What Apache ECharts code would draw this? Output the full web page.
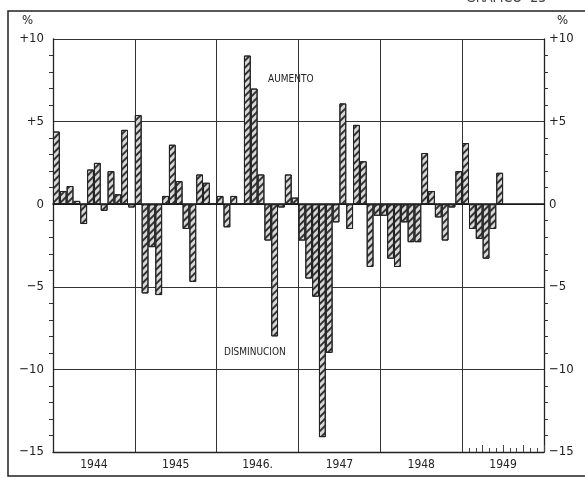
<!DOCTYPE html>
<html>
<head>
<meta charset="utf-8">
<script src="https://cdn.jsdelivr.net/npm/echarts@6/dist/echarts.min.js"></script>
<style>
html,body{margin:0;padding:0;background:#fff;}
#c{width:585px;height:479px;}
</style>
</head>
<body>
<div id="c"></div>
<script>
var years = ['1944', '1945', '1946.', '1947', '1948', '1949'];
var monthsPerYear = 12;
var v1944 = [4.4, 0.8, 1.1, 0.2, -1.2, 2.1, 2.5, -0.4, 2.0, 0.6, 4.5, -0.2];
var v1945 = [5.4, -5.4, -2.6, -5.5, 0.5, 3.6, 1.4, -1.5, -4.7, 1.8, 1.3, 0];
var v1946 = [0.5, -1.4, 0.5, 0, 9.0, 7.0, 1.8, -2.2, -8.0, -0.2, 1.8, 0.4];
var v1947 = [-2.2, -4.5, -5.6, -14.1, -9.0, -1.1, 6.1, -1.5, 4.8, 2.6, -3.8, -0.7];
var v1948 = [-0.7, -3.3, -3.8, -1.1, -2.3, -2.3, 3.1, 0.8, -0.8, -2.2, -0.2, 2.0];
var v1949 = [3.7, -1.5, -2.1, -3.3, -1.5, 1.9];
var yTicks = [-15, -10, -5, 0, 5, 10];

var months = [];
years.forEach(function (y) {
  for (var m = 1; m <= monthsPerYear; m++) months.push(y + '-' + m);
});
var values = [].concat(v1944, v1945, v1946, v1947, v1948, v1949);

var FONT = "'DejaVu Sans Condensed', 'Liberation Sans Narrow', 'Roboto', sans-serif";
function fmt(v) {
  if (v > 0) return '+' + v;
  if (v < 0) return '\u2212' + (-v);
  return '0';
}
var yCommon = {
  type: 'value', min: yTicks[0], max: yTicks[yTicks.length - 1], interval: 5,
  axisLine: { show: true, lineStyle: { color: '#222', width: 1.3 } },
  axisTick: { show: false },
  minorTick: { show: true, splitNumber: 5, length: 4, lineStyle: { color: '#333', width: 1 } },
  splitLine: { show: false },
  axisLabel: { formatter: fmt, color: '#222', fontFamily: FONT, fontSize: 13 }
};

var chart = echarts.init(document.getElementById('c'));
chart.setOption({
  animation: false,
  backgroundColor: '#fff',
  grid: { left: 53, right: 41, top: 39, bottom: 27, show: false },
  xAxis: [
    { type: 'category', data: months, gridIndex: 0,
      axisLine: { show: true, onZero: true, lineStyle: { color: '#111', width: 1.5 } },
      axisTick: { show: false }, axisLabel: { show: false }, splitLine: { show: false } },
    { type: 'category', data: years, position: 'bottom',
      axisLine: { show: true, onZero: false, lineStyle: { color: '#222', width: 1.3 } },
      axisTick: { show: false },
      axisLabel: { color: '#222', fontFamily: FONT, fontSize: 12, margin: 7 },
      splitLine: { show: true, lineStyle: { color: '#333', width: 1 } } },
    { type: 'category', data: months, position: 'bottom',
      axisLine: { show: false, onZero: false },
      axisTick: { show: true, inside: true, length: 4, lineStyle: { color: '#444' },
        interval: function (i) { return i > 60 && i % 3 !== 0; } },
      axisLabel: { show: false } },
    { type: 'category', data: months, position: 'bottom',
      axisLine: { show: false, onZero: false },
      axisTick: { show: true, inside: true, length: 7, lineStyle: { color: '#444' },
        interval: function (i) { return i > 60 && i % 3 === 0; } },
      axisLabel: { show: false } }
  ],
  yAxis: [
    Object.assign({}, yCommon, { position: 'left',
      splitLine: { show: true, lineStyle: { color: '#333', width: 1 } },
      axisLabel: Object.assign({}, yCommon.axisLabel, { margin: 9 }) }),
    Object.assign({}, yCommon, { position: 'right',
      axisLabel: Object.assign({}, yCommon.axisLabel, { margin: 5 }) })
  ],
  series: [{
    type: 'bar', data: values, xAxisIndex: 0, yAxisIndex: 0,
    barCategoryGap: '0%',
    itemStyle: {
      color: '#d8d8d8', borderColor: '#222', borderWidth: 1,
      decal: { symbol: 'rect', symbolSize: 1, dashArrayX: [1, 0], dashArrayY: [1.6, 2.4],
        rotation: -Math.PI / 4, color: '#333' }
    }
  }],
  graphic: [
    { type: 'rect', shape: { x: 8, y: 11, width: 600, height: 465 },
      style: { fill: 'none', stroke: '#222', lineWidth: 1.5 }, silent: true },
    { type: 'text', left: 22, top: 14, style: { text: '%', font: '13px ' + FONT, fill: '#222' } },
    { type: 'text', left: 557, top: 14, style: { text: '%', font: '13px ' + FONT, fill: '#222' } },
    { type: 'text', left: 466, top: -9, style: { text: 'GRAFICO  23', font: '14px ' + FONT, fill: '#444' } },
    { type: 'text', left: 268, top: 74, style: { text: 'AUMENTO', font: '10px ' + FONT, fill: '#222' } },
    { type: 'text', left: 224, top: 347, style: { text: 'DISMINUCION', font: '10px ' + FONT, fill: '#222' } }
  ]
});
</script>
</body>
</html>
